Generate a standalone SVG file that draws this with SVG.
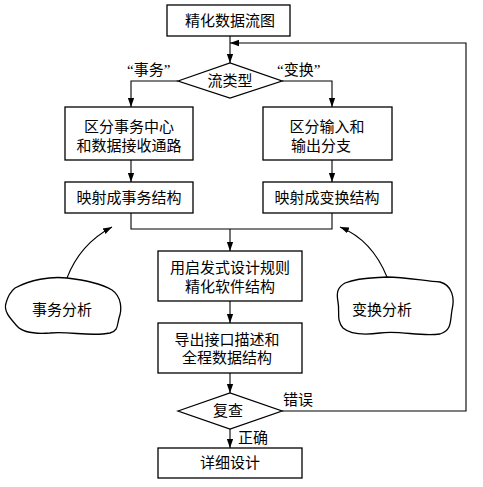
<svg xmlns="http://www.w3.org/2000/svg" width="483" height="487" viewBox="0 0 483 487">
<defs>
<style>
.box{fill:#fff;stroke:#000;stroke-width:1.3}
.ln{fill:none;stroke:#000;stroke-width:1.1}
.t{font-family:"Liberation Serif","Noto Sans CJK SC",serif;font-size:15px;fill:#000;text-anchor:middle;dominant-baseline:central}
.l{font-family:"Liberation Serif","Noto Sans CJK SC",serif;font-size:15px;fill:#000;dominant-baseline:central}
</style>
<marker id="ah" viewBox="0 0 10 10" refX="10" refY="5" markerWidth="9" markerHeight="9" markerUnits="userSpaceOnUse" orient="auto">
<path d="M0,1.5 L10,5 L0,8.5 Z" fill="#000"/>
</marker>
</defs>
<rect width="483" height="487" fill="#fff"/>
<g id="connectors">
<line class="ln" x1="230" y1="36" x2="230" y2="63" marker-end="url(#ah)"/>
<polyline class="ln" points="178,81 131,81 131,107" marker-end="url(#ah)"/>
<polyline class="ln" points="282,81 332,81 332,107" marker-end="url(#ah)"/>
<line class="ln" x1="131" y1="160" x2="131" y2="182" marker-end="url(#ah)"/>
<line class="ln" x1="332" y1="160" x2="332" y2="182" marker-end="url(#ah)"/>
<polyline class="ln" points="131,213 131,229 332,229 332,213"/>
<line class="ln" x1="230" y1="229" x2="230" y2="251" marker-end="url(#ah)"/>
<line class="ln" x1="230" y1="301" x2="230" y2="323" marker-end="url(#ah)"/>
<line class="ln" x1="230" y1="373" x2="230" y2="393" marker-end="url(#ah)"/>
<line class="ln" x1="230" y1="429" x2="230" y2="448" marker-end="url(#ah)"/>
<polyline class="ln" points="282,411 466,411 466,43 230,43" marker-end="url(#ah)"/>
<path class="ln" d="M67,278 Q80,244 112,227" marker-end="url(#ah)"/>
<path class="ln" d="M387,277 Q372,240 340,227" marker-end="url(#ah)"/>
<text class="l" x="127" y="70">“事务”</text>
<text class="l" x="277" y="70">“变换”</text>
<text class="l" x="283" y="400">错误</text>
<text class="l" x="238" y="438">正确</text>
</g>
<g id="n1"><rect class="box" x="167" y="5" width="123" height="31"/><text class="t" x="230" y="21">精化数据流图</text></g>
<g id="n2"><polygon class="box" points="178,81 230,63 282,81 230,98"/><text class="t" x="230" y="81">流类型</text></g>
<g id="n3"><rect class="box" x="65" y="107" width="128" height="53"/><text class="t" x="129" y="127">区分事务中心</text><text class="t" x="129" y="146">和数据接收通路</text></g>
<g id="n4"><rect class="box" x="263" y="107" width="129" height="53"/><text class="t" x="327" y="127">区分输入和</text><text class="t" x="321" y="146">输出分支</text></g>
<g id="n5"><rect class="box" x="65" y="182" width="128" height="31"/><text class="t" x="129" y="198">映射成事务结构</text></g>
<g id="n6"><rect class="box" x="263" y="182" width="129" height="31"/><text class="t" x="327" y="198">映射成变换结构</text></g>
<g id="n7"><rect class="box" x="158" y="251" width="144" height="50"/><text class="t" x="230" y="268">用启发式设计规则</text><text class="t" x="230" y="287">精化软件结构</text></g>
<g id="n8"><rect class="box" x="158" y="323" width="144" height="50"/><text class="t" x="227" y="340">导出接口描述和</text><text class="t" x="227" y="358">全程数据结构</text></g>
<g id="n9"><polygon class="box" points="178,411 230,393 282,411 230,429"/><text class="t" x="228" y="411">复查</text></g>
<g id="n10"><rect class="box" x="158" y="448" width="144" height="30"/><text class="t" x="230" y="463">详细设计</text></g>
<g id="n11"><path class="box" d="M15,288 C30,280 50,276 67,278 C85,280 100,283 112,290 C122,297 122,310 119,318 C117,326 118,331 110,333 C90,337 70,331 50,333 C35,334 22,332 17,326 C12,320 3,312 6,303 C8,296 10,292 15,288 Z"/><text class="t" x="62" y="310">事务分析</text></g>
<g id="n12"><path class="box" d="M345,283 C360,277 375,278 387,277 C405,277 425,281 440,282 C452,285 455,298 452,310 C450,322 452,330 440,334 C420,337 400,330 380,333 C365,335 350,334 343,328 C336,320 340,312 338,302 C336,292 338,287 345,283 Z"/><text class="t" x="382" y="310">变换分析</text></g>
</svg>
